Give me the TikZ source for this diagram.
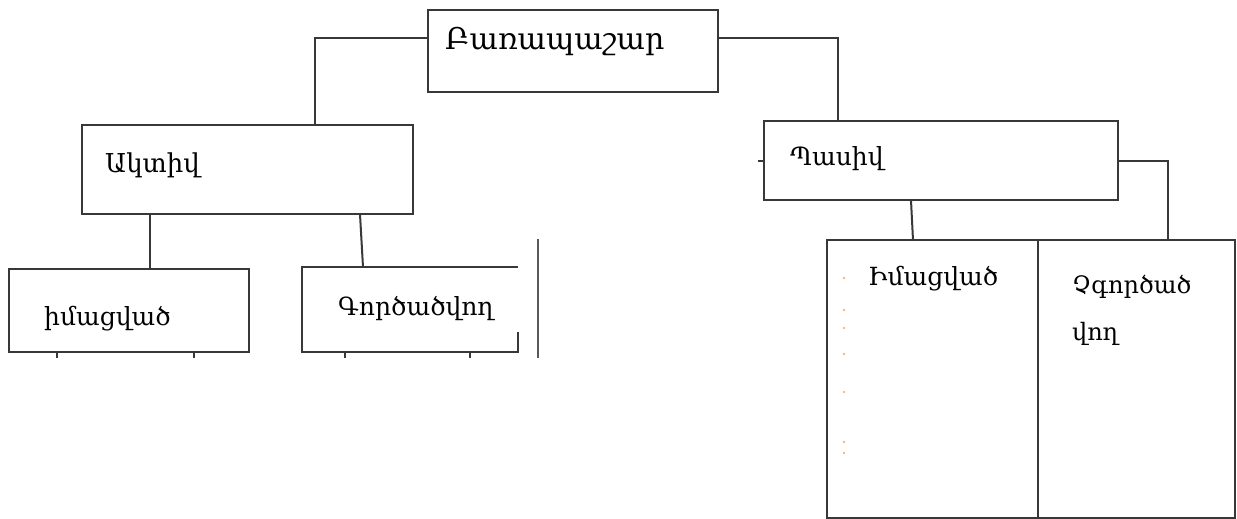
\documentclass[tikz,border=0pt]{standalone}
\usepackage{fontspec}
\setmainfont{DejaVu Serif}
\usetikzlibrary{positioning}

\begin{document}
\begin{tikzpicture}[x=1pt, y=-1pt,
    box/.style 2 args={inner sep=0pt, anchor=north west,
        minimum width=#1pt, minimum height=#2pt},
    word/.style={anchor=base west, inner sep=0pt, font=\fontsize{25}{29}\selectfont},
    link/.style={draw=black!78, line width=2pt}]
        \useasboundingbox (0,0) rectangle (1237,519);

        \node[box={290}{82}] (lex) at (428,10) {};
        \node[word, font=\fontsize{30}{34}\selectfont] (lexT) at (445,50) {Բառապաշար};

        \node[box={331}{89}] (akt) at (82,125) {};
        \node[word, font=\fontsize{26}{30}\selectfont] (aktT) at (105,172) {Ակտիվ};

        \node[box={354}{79}] (pas) at (764,121) {};
        \node[word] (pasT) at (790,165) {Պասիվ};

        \node[box={240}{83}] (imac) at (9,269) {};
        \node[word] (imacT) at (44,325) {իմացված};

        \node[box={216}{85}] (gorc) at (302,267) {};
        \node[word] (gorcT) at (338,315) {Գործածվող};

        \node[box={211}{278}] (imacP) at (827,240) {};
        \node[word] (imacPT) at (868,285) {Իմացված};

        \node[box={197}{278}] (zgorc) at (1038,240) {};
        \node[word, font=\fontsize{24}{28}\selectfont] (zgorcT) at (1072,293) {Չգործած};
        \node[word, font=\fontsize{24}{28}\selectfont] (zgorcU) at (1072,340) {վող};

        % frames
        \foreach \b in {lex,akt,pas,imac,imacP,zgorc}
            \draw[link] (\b.north west) rectangle (\b.south east);
        \draw[link] ([yshift=20pt]gorc.south east) -- (gorc.south east) -- (gorc.south west)
            -- (gorc.north west) -- (gorc.north east);

        % connectors
        \draw[link] ([yshift=-28pt]lex.north west) -| ([xshift=233pt]akt.north west);
        \draw[link] ([yshift=-28pt]lex.north east) -| ([xshift=74pt]pas.north west);
        \draw[link] ([yshift=-40pt]pas.north east) -| ([xshift=130pt]zgorc.north west);
        \draw[link] ([xshift=147pt]pas.south west) -- ([xshift=86pt]imacP.north west);
        \draw[link] ([yshift=-40pt]pas.north west) -- ++(-6,0);

        \draw[link] ([xshift=68pt]akt.south west) -- ([xshift=141pt]imac.north west);
        \draw[link] ([xshift=278pt]akt.south west) -- ([xshift=61pt]gorc.north west);

        \draw[link] ([xshift=48pt]imac.south west) -- ++(0,6);
        \draw[link] ([xshift=185pt]imac.south west) -- ++(0,6);
        \draw[link] ([xshift=43pt]gorc.south west) -- ++(0,6);
        \draw[link] ([xshift=168pt]gorc.south west) -- ++(0,6);

        \coordinate (sepA) at (538,239);
        \coordinate (sepB) at (538,358);
        \draw[link, draw=black!65, line width=1.5pt] (sepA) -- (sepB);

        \foreach \y in {278,310,328,354,392,442,453}
            \fill[orange!75] (844,\y) circle (1.1pt);

        \end{tikzpicture}
\end{document}
